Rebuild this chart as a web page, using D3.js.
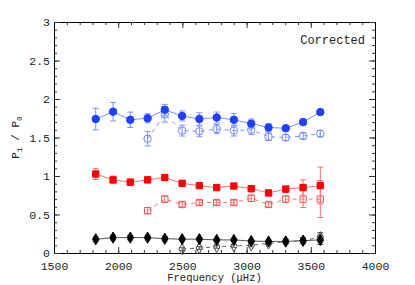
<!DOCTYPE html>
<html>
<head>
<meta charset="utf-8">
<script src="https://cdn.jsdelivr.net/npm/d3@7"></script>
<style>
  body { margin: 0; background: #fff; }
  text { font-family: "Liberation Mono", "DejaVu Sans Mono", monospace; fill: #222; }
</style>
</head>
<body>
<svg id="chart" width="415" height="285"></svg>
<script>
// frequencies of the points (muHz)
var freq = [1825, 1960, 2094, 2229, 2363, 2498, 2632, 2767, 2901, 3036, 3171, 3305, 3440, 3574]
var freqOpenA = [2229, 2363, 2498, 2632, 2767, 2901, 3036, 3171, 3305, 3440, 3574]
var freqOpenB = [2498, 2632, 2767, 2901, 3036, 3171, 3305, 3440, 3574]

var blueFilled    = [1.74, 1.835, 1.73, 1.75, 1.86, 1.78, 1.74, 1.76, 1.73, 1.68, 1.63, 1.62, 1.70, 1.83]
var blueFilledErr = [0.14, 0.12, 0.10, 0.06, 0.07, 0.065, 0.08, 0.07, 0.08, 0.06, 0.05, 0.04, 0.04, 0.03]
var blueOpen      = [1.485, 1.80, 1.59, 1.58, 1.61, 1.59, 1.60, 1.51, 1.50, 1.52, 1.55]
var blueOpenErr   = [0.095, 0.10, 0.07, 0.07, 0.06, 0.07, 0.06, 0.05, 0.04, 0.04, 0.04]

var redFilled     = [1.026, 0.95, 0.92, 0.95, 0.98, 0.905, 0.875, 0.85, 0.87, 0.835, 0.78, 0.83, 0.85, 0.875]
var redFilledErr  = [0.07, 0.05, 0.04, 0.04, 0.04, 0.03, 0.03, 0.03, 0.03, 0.03, 0.03, 0.04, 0.10, 0.24]
var redOpen       = [0.55, 0.70, 0.63, 0.655, 0.655, 0.655, 0.71, 0.63, 0.70, 0.70, 0.70]
var redOpenErr    = [0.04, 0.04, 0.03, 0.03, 0.03, 0.03, 0.04, 0.03, 0.04, 0.11, 0.24]

var blackFilled    = [0.178, 0.20, 0.20, 0.20, 0.185, 0.18, 0.18, 0.17, 0.17, 0.155, 0.15, 0.15, 0.16, 0.17]
var blackFilledErr = [0.03, 0.03, 0.03, 0.03, 0.03, 0.02, 0.02, 0.02, 0.02, 0.02, 0.02, 0.03, 0.04, 0.06]
var blackOpen      = [0.05, 0.065, 0.08, 0.09, 0.10, 0.125, 0.147, 0.16, 0.205]
var blackOpenErr   = [0.02, 0.02, 0.02, 0.02, 0.02, 0.02, 0.02, 0.03, 0.06]

var xTicks = [1500, 2000, 2500, 3000, 3500, 4000]
var yTicks = [0, 0.5, 1, 1.5, 2, 2.5, 3]

var margin = {top: 22, right: 40, bottom: 32, left: 54}
  , width = 415 - margin.left - margin.right
  , height = 285 - margin.top - margin.bottom

var svg = d3.select("#chart")
var g = svg.append("g").attr("transform", "translate(" + margin.left + "," + margin.top + ")")

var x = d3.scaleLinear().domain([1500, 4000]).range([0, width])
var y = d3.scaleLinear().domain([0, 3]).range([height, 0])

// axes, ticks inward on all four sides
var xMinor = d3.range(1500, 4001, 100)
var yMinor = d3.range(0, 3.001, 0.1)

g.append("g").attr("transform", "translate(0," + height + ")")
  .call(d3.axisBottom(x).tickValues(xMinor).tickSize(-3).tickFormat(""))
g.append("g").attr("transform", "translate(0," + height + ")")
  .call(d3.axisBottom(x).tickValues(xTicks).tickSize(-6).tickPadding(9).tickFormat(d3.format("d")))
g.append("g")
  .call(d3.axisTop(x).tickValues(xMinor).tickSize(-3).tickFormat(""))
g.append("g")
  .call(d3.axisTop(x).tickValues(xTicks).tickSize(-6).tickFormat(""))

g.append("g")
  .call(d3.axisLeft(y).tickValues(yMinor).tickSize(-3).tickFormat(""))
g.append("g")
  .call(d3.axisLeft(y).tickValues(yTicks).tickSize(-6).tickPadding(4).tickFormat(d3.format("")))
g.append("g").attr("transform", "translate(" + width + ",0)")
  .call(d3.axisRight(y).tickValues(yMinor).tickSize(-3).tickFormat(""))
g.append("g").attr("transform", "translate(" + width + ",0)")
  .call(d3.axisRight(y).tickValues(yTicks).tickSize(-6).tickFormat(""))

g.selectAll(".domain").attr("stroke", "#000")
g.selectAll(".tick line").attr("stroke", "#333")
g.selectAll(".tick text").attr("font-size", 11.5).attr("font-family", "Liberation Mono").attr("fill", "#222")

// series drawing
function drawSeries(xs, vals, errs, color, lineColor, shape, filled, dashed) {
  var pts = xs.map(function (f, i) { return {f: f, v: vals[i], e: errs[i]} })
  var s = g.append("g")

  var line = d3.line().x(function (d) { return x(d.f) }).y(function (d) { return y(d.v) })
  s.append("path").datum(pts)
    .attr("fill", "none")
    .attr("stroke", lineColor)
    .attr("stroke-width", 1)
    .attr("stroke-dasharray", dashed ? "4,4" : null)
    .attr("d", line)

  var eb = s.selectAll(".err").data(pts).enter().append("g")
  eb.append("line")
    .attr("x1", function (d) { return x(d.f) }).attr("x2", function (d) { return x(d.f) })
    .attr("y1", function (d) { return y(d.v - d.e) }).attr("y2", function (d) { return y(d.v + d.e) })
    .attr("stroke", lineColor)
  eb.append("line")
    .attr("x1", function (d) { return x(d.f) - 3 }).attr("x2", function (d) { return x(d.f) + 3 })
    .attr("y1", function (d) { return y(d.v + d.e) }).attr("y2", function (d) { return y(d.v + d.e) })
    .attr("stroke", lineColor)
  eb.append("line")
    .attr("x1", function (d) { return x(d.f) - 3 }).attr("x2", function (d) { return x(d.f) + 3 })
    .attr("y1", function (d) { return y(d.v - d.e) }).attr("y2", function (d) { return y(d.v - d.e) })
    .attr("stroke", lineColor)

  var sym = d3.symbol().type(shape).size(shape === d3.symbolDiamond ? 36 : (shape === d3.symbolSquare ? 40 : 44))
  s.selectAll(".pt").data(pts).enter().append("path")
    .attr("transform", function (d) { return "translate(" + x(d.f) + "," + y(d.v) + ")" })
    .attr("d", sym)
    .attr("fill", filled ? color : "none")
    .attr("stroke", color)
    .attr("stroke-width", 1)
}

drawSeries(freqOpenA, blueOpen, blueOpenErr, "#6f86ff", "#7d92ff", d3.symbolCircle, false, true)
drawSeries(freq, blueFilled, blueFilledErr, "#2040ff", "#7d92ff", d3.symbolCircle, true, false)
drawSeries(freqOpenA, redOpen, redOpenErr, "#ff5050", "#ff7070", d3.symbolSquare, false, true)
drawSeries(freq, redFilled, redFilledErr, "#ff0000", "#ff7070", d3.symbolSquare, true, false)
drawSeries(freqOpenB, blackOpen, blackOpenErr, "#444", "#666", d3.symbolDiamond, false, true)
drawSeries(freq, blackFilled, blackFilledErr, "#000", "#555", d3.symbolDiamond, true, false)

// labels
svg.append("text")
  .attr("x", margin.left + width / 2).attr("y", 281)
  .attr("text-anchor", "middle").attr("font-size", 10.5)
  .text("Frequency (\u03bcHz)")

var yl = svg.append("text")
  .attr("transform", "translate(19," + (margin.top + height / 2) + ") rotate(-90)")
  .attr("text-anchor", "middle").attr("font-size", 11)
yl.append("tspan").text("P")
yl.append("tspan").attr("font-size", 8).attr("dy", 3).text("1")
yl.append("tspan").attr("dy", -3).text(" / P")
yl.append("tspan").attr("font-size", 8).attr("dy", 3).text("0")

svg.append("text")
  .attr("x", 365).attr("y", 44)
  .attr("text-anchor", "end").attr("font-size", 12)
  .text("Corrected")
</script>
</body>
</html>
